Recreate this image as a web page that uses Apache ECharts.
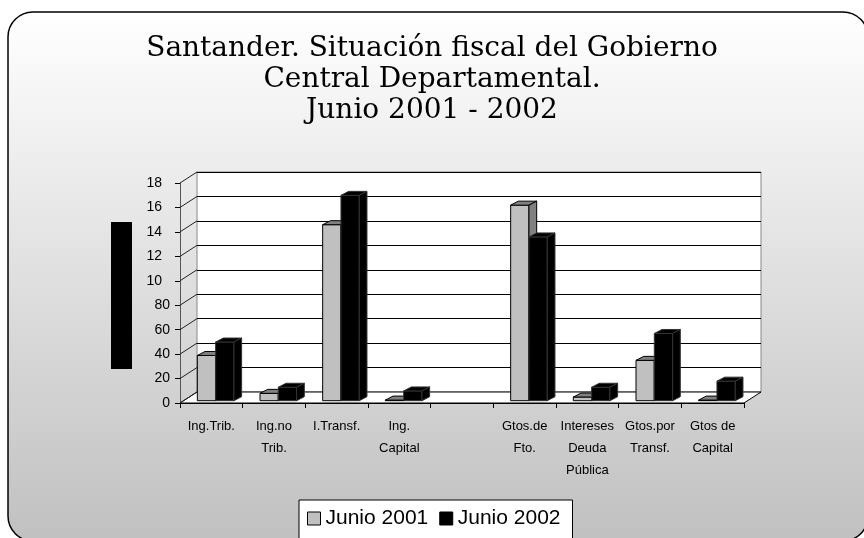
<!DOCTYPE html>
<html><head><meta charset="utf-8">
<script src="https://cdn.jsdelivr.net/npm/echarts@6/dist/echarts.min.js"></script>
<style>html,body{margin:0;padding:0;background:#fff}#c{width:864px;height:538px}</style>
</head><body><div id="c"></div>
<script>
// ---- data ----
const categories = ['Ing.Trib.', 'Ing.no\nTrib.', 'I.Transf.', 'Ing.\nCapital', '', 'Gtos.de\nFto.', 'Intereses\nDeuda\nPública', 'Gtos.por\nTransf.', 'Gtos de\nCapital'];
const junio2001 = [37, 6, 144, 0.5, null, 160, 3, 33, 0.5];
const junio2002 = [48, 11, 168, 8, null, 134, 11, 55, 16];
const yTickValues = [0, 20, 40, 60, 80, 100, 120, 140, 160, 180];
const yTickLabels = ['0', '20', '40', '60', '80', '10', '12', '14', '16', '18'];
const seriesNames = ['Junio 2001', 'Junio 2002'];
const titleText = 'Santander. Situación fiscal del Gobierno\nCentral Departamental.\nJunio 2001 - 2002';

// ---- layout / style ----
const WALL_DX = 17, WALL_DY = 11;
const chart = echarts.init(document.getElementById('c'), null, {renderer: 'canvas'});

function toPairs(arr) {
  const out = [];
  arr.forEach((v, i) => { if (v !== null) out.push([i, v]); });
  return out;
}

function barRender(si, front, shade, stroke) {
  return function (params, api) {
    const i = api.value(0), v = api.value(1);
    const base = api.coord([i, 0]);
    const top = api.coord([i, v]);
    const bw = api.size([1, 0])[0];
    const w = bw * 0.292;
    const x0 = base[0] - bw * 0.2234 + si * w;
    const yb = base[1] - 2.3, yt = top[1] - 2.3;
    const dx = bw * 0.123, dy = -4;
    const st = {stroke: stroke, lineWidth: 1};
    return {type: 'group', children: [
      {type: 'polygon', shape: {points: [[x0, yb], [x0 + w, yb], [x0 + w, yt], [x0, yt]]}, style: Object.assign({fill: front}, st)},
      {type: 'polygon', shape: {points: [[x0, yt], [x0 + w, yt], [x0 + w + dx, yt + dy], [x0 + dx, yt + dy]]}, style: Object.assign({fill: shade}, st)},
      {type: 'polygon', shape: {points: [[x0 + w, yt], [x0 + w + dx, yt + dy], [x0 + w + dx, yb + dy], [x0 + w, yb]]}, style: Object.assign({fill: shade}, st)}
    ]};
  };
}

function frameRender(params, api) {
  const v = api.value(1);
  const p = api.coord([0, v]);
  const bw = api.size([1, 0])[0];
  const left = p[0] - bw / 2;
  const children = [];
  if (v === 0) {
    const right = api.coord([categories.length - 1, 0])[0] + bw / 2;
    children.push({type: 'polygon', shape: {points: [[left, p[1]], [right, p[1]], [right + WALL_DX, p[1] - WALL_DY], [left + WALL_DX, p[1] - WALL_DY]]},
      style: {fill: '#ffffff', stroke: '#000', lineWidth: 1}});
  }
  children.push({type: 'line', shape: {x1: left, y1: p[1], x2: left + WALL_DX, y2: p[1] - WALL_DY}, style: {stroke: '#222', lineWidth: 1}});
  return {type: 'group', children: children};
}

const option = {
  animation: false,
  title: {
    text: titleText, left: 'center', top: 28,
    textStyle: {fontFamily: 'DejaVu Serif', fontSize: 28, fontWeight: 'normal', lineHeight: 31, color: '#000'}
  },
  graphic: [
    {type: 'rect', z: -100, shape: {x: 8, y: 12, width: 860, height: 529, r: 25},
      style: {fill: new echarts.graphic.LinearGradient(0, 0, 0, 1, [{offset: 0, color: '#ffffff'}, {offset: 1, color: '#c0c0c0'}]), stroke: '#000', lineWidth: 1.5}},
    {type: 'rect', z: 10, shape: {x: 111, y: 222, width: 21, height: 147}, style: {fill: '#000'}}
  ],
  legend: {
    left: 299, top: 500, orient: 'horizontal',
    backgroundColor: '#fff', borderColor: '#000', borderWidth: 1, borderRadius: 0,
    padding: [8, 12, 30, 8], itemWidth: 13, itemHeight: 13, itemGap: 11, selectedMode: false,
    textStyle: {fontFamily: 'Liberation Sans', fontSize: 21, color: '#000'},
    data: [
      {name: seriesNames[0], icon: 'rect', itemStyle: {color: '#c0c0c0', borderColor: '#000', borderWidth: 1}},
      {name: seriesNames[1], icon: 'rect', itemStyle: {color: '#000', borderColor: '#000', borderWidth: 1}}
    ]
  },
  grid: [
    {left: 180, right: 120, top: 183, bottom: 135, show: false},
    {left: 197, right: 103, top: 172, bottom: 146, show: true, backgroundColor: '#fff', borderColor: '#888', borderWidth: 1}
  ],
  xAxis: [
    {type: 'category', gridIndex: 0, data: categories,
      axisLine: {show: true, lineStyle: {color: '#000', width: 1}},
      axisTick: {show: true, length: 5, lineStyle: {color: '#000'}},
      axisLabel: {interval: 0, margin: 12, fontFamily: 'Liberation Sans', fontSize: 13, lineHeight: 22, color: '#000'}},
    {type: 'category', gridIndex: 1, data: categories, show: false}
  ],
  yAxis: [
    {type: 'value', gridIndex: 0, min: 0, max: 180, interval: 20,
      axisLine: {show: true, lineStyle: {color: '#555', width: 1}},
      axisTick: {show: true, length: 5, lineStyle: {color: '#000'}},
      splitLine: {show: false},
      axisLabel: {margin: 10, fontFamily: 'Liberation Sans', fontSize: 14, color: '#000',
        formatter: function (v) {
          const k = yTickValues.indexOf(v);
          if (k < 0) return '';
          // three-digit values are shown truncated, keeping the place of the lost digit
          return v >= 100 ? '{cut|' + yTickLabels[k] + '}' : yTickLabels[k];
        },
        rich: {cut: {fontFamily: 'Liberation Sans', fontSize: 14, color: '#000', padding: [0, 8, 0, 0]}}}},
    {type: 'value', gridIndex: 1, min: 0, max: 180, interval: 20,
      axisLine: {show: false}, axisTick: {show: false}, axisLabel: {show: false},
      splitLine: {show: true, lineStyle: {color: '#000', width: 1}}}
  ],
  series: [
    {type: 'custom', name: 'frame', xAxisIndex: 0, yAxisIndex: 0, z: 1, silent: true,
      data: yTickValues.map(v => [0, v]), renderItem: frameRender},
    {type: 'custom', name: seriesNames[0], xAxisIndex: 0, yAxisIndex: 0, z: 3,
      itemStyle: {color: '#c0c0c0'}, data: toPairs(junio2001), renderItem: barRender(0, '#c0c0c0', '#808080', '#000')},
    {type: 'custom', name: seriesNames[1], xAxisIndex: 0, yAxisIndex: 0, z: 4,
      itemStyle: {color: '#000'}, data: toPairs(junio2002), renderItem: barRender(1, '#000', '#000', '#333')}
  ]
};
chart.setOption(option);
</script></body></html>
